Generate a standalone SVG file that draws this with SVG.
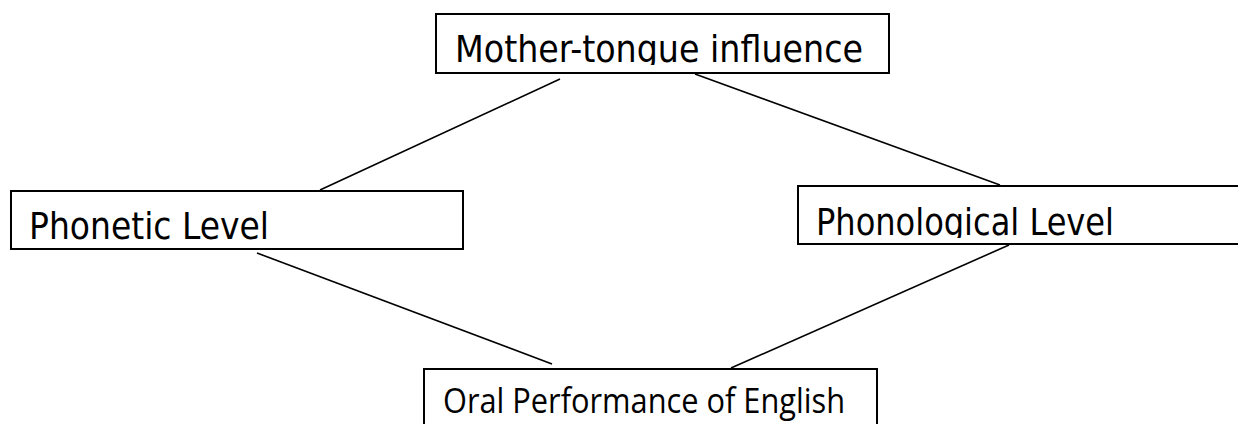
<svg xmlns="http://www.w3.org/2000/svg" width="1238" height="424" viewBox="0 0 1238 424">
<style>
.box{fill:#fff;stroke:#000;stroke-width:2}
.lbl{font-family:"DejaVu Sans Condensed","DejaVu Sans",sans-serif;font-size:38px;fill:#000}
.lbl2{font-family:"Open Sans","DejaVu Sans",sans-serif;font-size:35px;fill:#000}
.edge{stroke:#000;stroke-width:1.6;fill:none}
</style>
<defs>
<clipPath id="c1"><rect x="436" y="14" width="453" height="51"/></clipPath>
<clipPath id="c3"><rect x="798" y="186" width="452" height="52"/></clipPath>
</defs>
<rect width="1238" height="424" fill="#fff"/>
<g id="connectors">
<line class="edge" x1="320" y1="190" x2="560" y2="79"/>
<line class="edge" x1="695" y1="74" x2="1000" y2="185"/>
<line class="edge" x1="257" y1="253" x2="552" y2="364"/>
<line class="edge" x1="1009" y1="245" x2="731" y2="368"/>
</g>
<g id="mother-tongue">
<rect class="box" x="436" y="14" width="453" height="59"/>
<text class="lbl" x="455" y="62" textLength="408" lengthAdjust="spacingAndGlyphs" clip-path="url(#c1)">Mother-tongue influence</text>
</g>
<g id="phonetic">
<rect class="box" x="11" y="191" width="452" height="58"/>
<text class="lbl" x="29" y="239" textLength="240" lengthAdjust="spacingAndGlyphs">Phonetic Level</text>
</g>
<g id="phonological">
<rect class="box" x="798" y="186" width="452" height="58"/>
<text class="lbl" x="816" y="235" textLength="298" lengthAdjust="spacingAndGlyphs" clip-path="url(#c3)">Phonological Level</text>
</g>
<g id="oral">
<rect class="box" x="424" y="369" width="453" height="62"/>
<text class="lbl2" x="443" y="413" textLength="402" lengthAdjust="spacingAndGlyphs">Oral Performance of English</text>
</g>
</svg>
